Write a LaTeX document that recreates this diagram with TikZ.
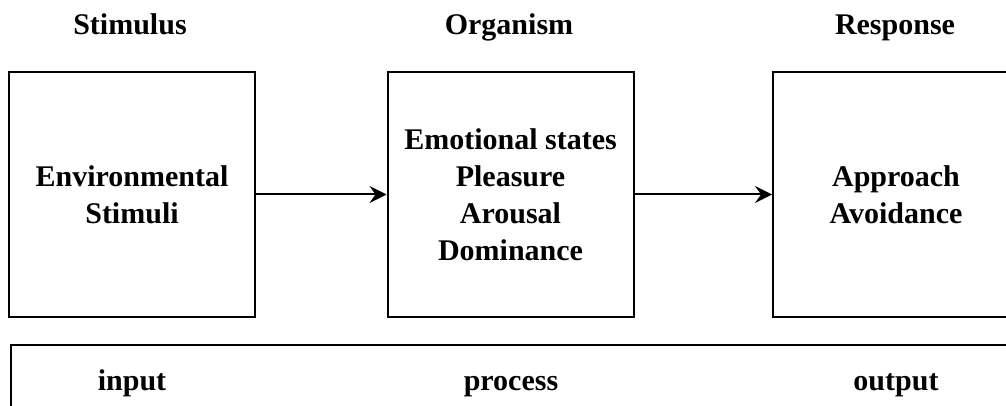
\documentclass[tikz,border=0pt]{standalone}
\usepackage{fontspec}
\setmainfont{Liberation Serif}
\usetikzlibrary{arrows.meta}
\tikzstyle{label}=[font=\fontsize{30}{37}\selectfont\bfseries, inner sep=0pt]
\tikzstyle{stage}=[draw, line width=2pt, minimum width=246pt, minimum height=245pt, align=center, inner sep=0pt, font=\fontsize{30}{37}\selectfont\bfseries]
\tikzstyle{band}=[draw, line width=2pt, minimum width=1010pt, minimum height=120pt, inner sep=0pt, anchor=north west]
\tikzstyle{flow}=[line width=2pt, -{Stealth[length=17pt, width=17pt, inset=6pt]}]

\begin{document}
\begin{tikzpicture}[x=1pt, y=-1pt]
        \useasboundingbox (0,0) rectangle (1006,406);
        \clip (0,0) rectangle (1006,406);
        % headings
        \node[label, anchor=base] (S) at (130,35) {Stimulus};
        \node[label, anchor=base] (O) at (509,35) {Organism};
        \node[label, anchor=base] (R) at (895,35) {Response};
        % the three stages
        \node[stage] (env)  at (132,194.5) {Environmental\\Stimuli};
        \node[stage] (org)  at (510.5,194.5) {Emotional states\\Pleasure\\Arousal\\Dominance};
        \node[stage] (resp) at (896,194.5) {Approach\\Avoidance};
        \draw[flow] (env) -- (org);
        \draw[flow] (org) -- (resp);
        % input / process / output
        \node[band] (IPO) at (10,344) {};
        \node[label, anchor=base] (in)   at (132,390) {input};
        \node[label, anchor=base] (proc) at (511,390) {process};
        \node[label, anchor=base] (out)  at (896,390) {output};
    \end{tikzpicture}
\end{document}
